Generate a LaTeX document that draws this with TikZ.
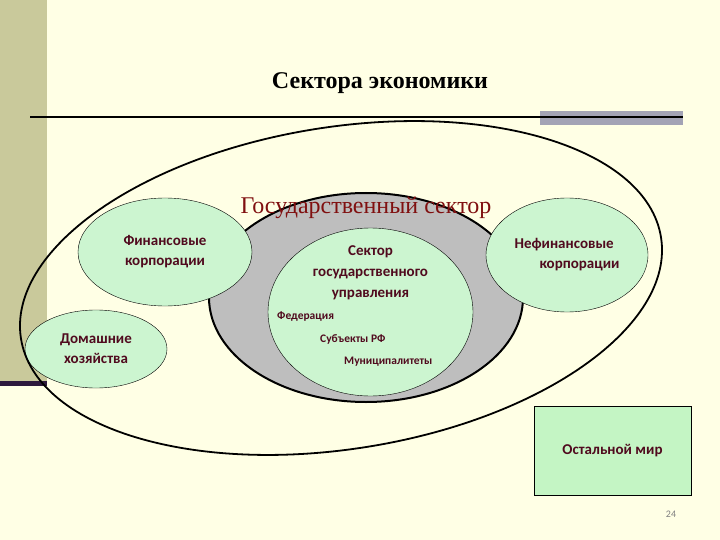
\documentclass[tikz,border=0pt]{standalone}
\usepackage{fontspec}
\setmainfont{Liberation Serif}
\newfontfamily\labelfont{Carlito}
\usetikzlibrary{positioning,shapes.geometric}
\definecolor{slidebg}{RGB}{255,255,229}
\definecolor{stripe}{RGB}{201,201,155}
\definecolor{darkbar}{RGB}{45,25,60}
\definecolor{greybar}{RGB}{163,163,181}
\definecolor{mint}{RGB}{204,245,208}
\definecolor{mintbox}{RGB}{196,245,196}
\definecolor{govgrey}{RGB}{190,190,190}
\definecolor{labelred}{RGB}{80,10,30}
\definecolor{govred}{RGB}{128,16,16}

\begin{document}
\begin{tikzpicture}[
  x=1pt,y=-1pt,
  sector/.style={ellipse,draw,thin,fill=mint,inner sep=0pt,align=center,
    text=labelred,font=\labelfont\bfseries\fontsize{15}{20}\selectfont},
  sublabel/.style={anchor=west,inner sep=0pt,text=labelred,
    font=\labelfont\bfseries\fontsize{11.5}{13}\selectfont}
]
  \fill[slidebg] (0,0) rectangle (720,540);
  \useasboundingbox (0,0) rectangle (720,540);
  \fill[stripe] (0,0) rectangle (47,383);
  \fill[darkbar] (0,381) rectangle (47,386);
  \fill[greybar] (540,111) rectangle (683,125);
  \draw[line width=2.2pt] (30,117) -- (683,117);

  \node[font=\bfseries\fontsize{24}{28}\selectfont] (title) at (380,83)
       {Сектора экономики};

  \node[ellipse,draw,line width=2pt,fill=govgrey,inner sep=0pt,
        minimum width=314pt,minimum height=209pt] (gov) at (366,297.5) {};
  \node[sector,minimum width=205pt,minimum height=168pt] (govadmin)
       at (370.5,312) {};
  \node[inner sep=0pt,align=center,text=labelred,
        font=\labelfont\bfseries\fontsize{15}{21}\selectfont,
        below=18pt of govadmin.north] (govadmintext)
       {Сектор\\государственного\\управления};
  \node[sublabel] (federation) at (277,317) {Федерация};
  \node[sublabel] (subjects) at (320,339) {Субъекты РФ};
  \node[sublabel] (municipal) at (344,362) {Муниципалитеты};

  \node[sector,minimum width=174pt,minimum height=108pt] (fincorp)
       at (165,252) {Финансовые\\корпорации};
  \node[sector,align=left,minimum width=162pt,minimum height=114pt] (nonfincorp)
       at (567,255) {Нефинансовые\\\hspace*{25pt}корпорации};
  \node[sector,minimum width=142pt,minimum height=78pt] (household)
       at (96,349) {Домашние\\хозяйства};

  \node[font=\fontsize{24}{28}\selectfont,text=govred] (govlabel) at (366,208)
       {Государственный сектор};

  \node[ellipse,draw,line width=1.8pt,inner sep=0pt,rotate=9,
        minimum width=648pt,minimum height=322pt] (economy) at (341,288) {};

  \node[draw,thin,fill=mintbox,minimum width=157pt,minimum height=89pt,
        text=labelred,font=\labelfont\bfseries\fontsize{15}{20}\selectfont]
       (restworld) at (612.5,450.5) {Остальной мир};
  \node[text=gray,font=\labelfont\fontsize{10}{12}\selectfont] (pagenum)
       at (671,514) {24};
\end{tikzpicture}
\end{document}
